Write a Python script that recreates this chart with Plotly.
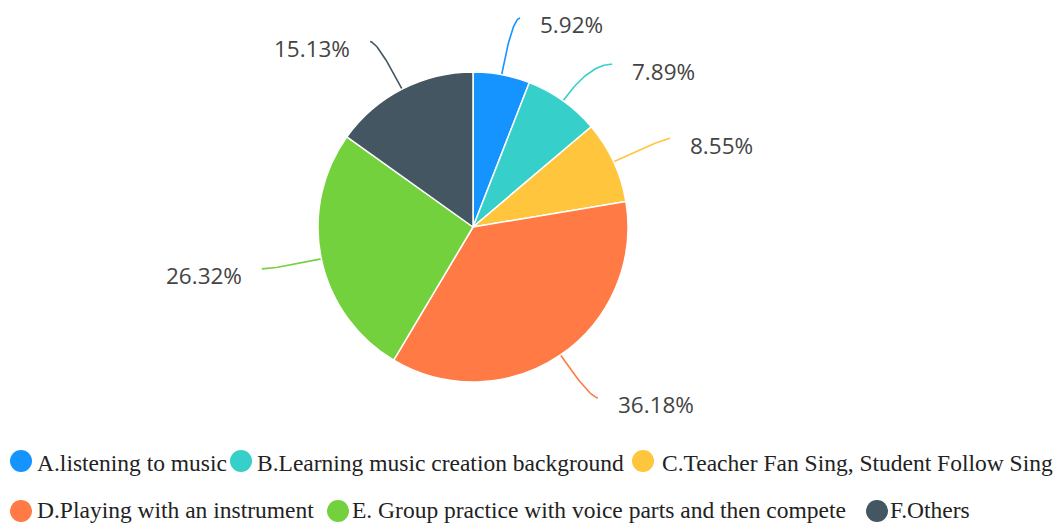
import numpy as np
import plotly.graph_objects as go

# ---- data ----
categories = [
    "A.listening to music",
    "B.Learning music creation background",
    "C.Teacher Fan Sing, Student Follow Sing",
    "D.Playing with an instrument",
    "E. Group practice with voice parts and then compete",
    "F.Others",
]
values = [5.92, 7.89, 8.55, 36.18, 26.32, 15.13]
colors = ["#1593ff", "#36cfc9", "#ffc53d", "#ff7a45", "#73d13d", "#435661"]

# ---- layout parameters (pixels) ----
W, H = 1061, 525
cx, cy, R = 473, 227, 155
turn_r = [212.7, 200, 210.6, 207, 204, 208.5]   # radius where leader line turns
tail = [7.7, 23, 6, 8, 11.5, 7.4]              # horizontal leader tail length
legend_circle_x = [21, 241, 643, 21, 338, 877]
legend_text_x = [35, 255, 660, 35, 350, 888]
legend_row = [0, 0, 0, 1, 1, 1]
row_circle_y = [461, 511]
row_text_y = [463, 510]

fig = go.Figure()
fig.add_trace(go.Pie(
    labels=categories, values=values, sort=False, direction="clockwise", rotation=0,
    marker=dict(colors=colors, line=dict(color="white", width=1.5)),
    textinfo="none", hoverinfo="label+percent", showlegend=False,
    domain=dict(x=[(cx - R) / W, (cx + R) / W], y=[(H - cy - R) / H, (H - cy + R) / H]),
))

total = sum(values)
cum = np.cumsum([0] + values)
annotations = []
for i, v in enumerate(values):
    mid = np.radians((cum[i] + v / 2) / total * 360.0)
    s, c = np.sin(mid), np.cos(mid)
    p0 = np.array([cx + R * s, cy - R * c])
    p1 = np.array([cx + turn_r[i] * s, cy - turn_r[i] * c])
    side = 1 if s >= 0 else -1
    p2 = p1 + np.array([side * tail[i], 0])
    t = np.linspace(0, 1, 30)[:, None]
    pts = (1 - t) ** 2 * p0 + 2 * (1 - t) * t * p1 + t ** 2 * p2
    fig.add_trace(go.Scatter(
        x=pts[:, 0], y=pts[:, 1], mode="lines",
        line=dict(color=colors[i], width=1.6), hoverinfo="skip", showlegend=False,
    ))
    annotations.append(dict(
        x=p2[0] + side * 18, y=p2[1] + 7, xref="x", yref="y",
        text=f"{v:.2f}%", showarrow=False,
        xanchor="left" if side > 0 else "right", yanchor="middle",
        font=dict(family="Open Sans", size=22.5, color="#444444"),
    ))

# custom legend
for i, name in enumerate(categories):
    r = legend_row[i]
    fig.add_trace(go.Scatter(
        x=[legend_circle_x[i]], y=[row_circle_y[r]], mode="markers",
        marker=dict(size=22, color=colors[i]), hoverinfo="skip",
        showlegend=False, cliponaxis=False,
    ))
    annotations.append(dict(
        x=legend_text_x[i], y=row_text_y[r], xref="x", yref="y",
        text=name, showarrow=False, xanchor="left", yanchor="middle",
        font=dict(family="Liberation Serif", size=23.5, color="#222222"),
    ))

fig.update_layout(
    width=W, height=H, autosize=False,
    margin=dict(l=0, r=0, t=0, b=0),
    paper_bgcolor="white", plot_bgcolor="white",
    xaxis=dict(range=[0, W], visible=False, fixedrange=True),
    yaxis=dict(range=[H, 0], visible=False, fixedrange=True),
    annotations=annotations,
    showlegend=False,
)

fig.write_html(
    "out.html",
    config={"displayModeBar": False},
    post_script="document.body.style.margin='0';document.body.style.overflow='hidden';",
)
